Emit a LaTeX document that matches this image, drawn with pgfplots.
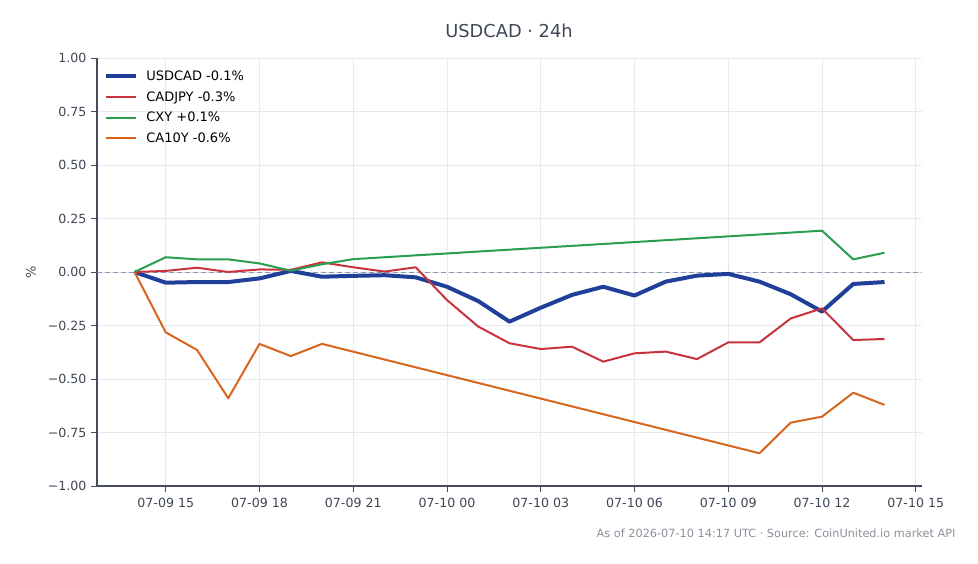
\documentclass[border=0pt]{standalone}
\usepackage{fontspec}
\setmainfont{DejaVu Sans}
\usepackage{pgfplots}
\pgfplotsset{compat=1.18}

\definecolor{cusd}{HTML}{1F3F99}
\definecolor{cjpy}{HTML}{C8323C}
\definecolor{cxy}{HTML}{2A9D4E}
\definecolor{cten}{HTML}{D9641E}
\definecolor{txt}{HTML}{3F4756}
\definecolor{axc}{HTML}{454B5A}
\definecolor{gridc}{HTML}{E6E9EE}
\definecolor{zeroc}{HTML}{8A96B4}
\definecolor{foot}{HTML}{8A8F99}

\begin{document}
\begin{tikzpicture}[x=1pt,y=1pt]
\path[use as bounding box] (0,0) rectangle (978,564);
\begin{axis}[
  at={(97pt,78pt)}, anchor=south west,
  scale only axis, width=825pt, height=428pt,
  xmin=-1.2, xmax=25.2, ymin=-1, ymax=1,
  axis x line*=bottom, axis y line*=left,
  axis line style={axc, line width=1.1pt},
  xtick={1,4,...,25},
  xticklabels={07-09 15,07-09 18,07-09 21,07-10 00,07-10 03,07-10 06,07-10 09,07-10 12,07-10 15},
  ytick={-1,-0.75,-0.5,-0.25,0,0.25,0.5,0.75,1},
  yticklabels={−1.00,−0.75,−0.50,−0.25,0.00,0.25,0.50,0.75,1.00},
  ticklabel style={font=\fontsize{12.6}{14}\selectfont, text=txt},
  xticklabel style={yshift=-3pt},
  yticklabel style={xshift=-1pt},
  tick style={axc, line width=0.9pt},
  major tick length=6pt, tick align=outside,
  xtick pos=bottom, ytick pos=left,
  grid=major, major grid style={gridc, line width=0.6pt},
  legend style={at={(0.005,0.98)}, anchor=north west, draw=none, fill=none,
    font=\fontsize{13}{15.5}\selectfont, text=black, row sep=5.5pt,
    nodes={inner xsep=5pt}},
  legend cell align=left,
  legend image code/.code={\draw[#1] (0pt,0pt) -- (30pt,0pt); \path (33pt,0pt);},
]
\addplot[zeroc, dashed, dash pattern=on 5pt off 3pt, line width=0.9pt, forget plot]
  coordinates {(-1.2,0) (25.2,0)};

% USDCAD
\addplot[cusd, line width=4pt, line join=round] coordinates {
(0,0) (1,-0.050) (2,-0.047) (3,-0.047) (4,-0.030) (5,0.005) (6,-0.022)
(7,-0.018) (8,-0.015) (9,-0.025) (10,-0.069) (11,-0.136) (12,-0.232)
(13,-0.167) (14,-0.107) (15,-0.069) (16,-0.110) (17,-0.045) (18,-0.017)
(19,-0.009) (20,-0.045) (21,-0.104) (22,-0.185) (23,-0.056) (24,-0.047)};
\addlegendentry{USDCAD -0.1\%}

% CADJPY
\addplot[cjpy, line width=2pt, line join=round] coordinates {
(0,0) (1,0.005) (2,0.020) (3,0.000) (4,0.012) (5,0.010) (6,0.045)
(7,0.022) (8,0.002) (9,0.022) (10,-0.131) (11,-0.255) (12,-0.333)
(13,-0.360) (14,-0.349) (15,-0.419) (16,-0.380) (17,-0.372) (18,-0.407)
(19,-0.329) (20,-0.329) (21,-0.217) (22,-0.170) (23,-0.318) (24,-0.313)};
\addlegendentry{CADJPY -0.3\%}

% CXY
\addplot[cxy, line width=2pt, line join=round] coordinates {
(0,0) (1,0.069) (2,0.059) (3,0.059) (4,0.040) (5,0.006) (6,0.036)
(7,0.060) (22,0.193) (23,0.059) (24,0.090)};
\addlegendentry{CXY +0.1\%}

% CA10Y
\addplot[cten, line width=2pt, line join=round] coordinates {
(0,0) (1,-0.282) (2,-0.364) (3,-0.590) (4,-0.336) (5,-0.393) (6,-0.336)
(20,-0.847) (21,-0.704) (22,-0.676) (23,-0.564) (24,-0.621)};
\addlegendentry{CA10Y -0.6\%}
\end{axis}
\node[text=txt, rotate=90, font=\fontsize{13}{15}\selectfont] at (31,292) {\%};
\node[text=txt, font=\fontsize{17.8}{20}\selectfont] at (509,533) {USDCAD · 24h};
\node[anchor=east, text=foot, font=\fontsize{11.3}{13}\selectfont] at (959,31) {As of 2026-07-10 14:17 UTC · Source: CoinUnited.io market API};
\end{tikzpicture}
\end{document}
